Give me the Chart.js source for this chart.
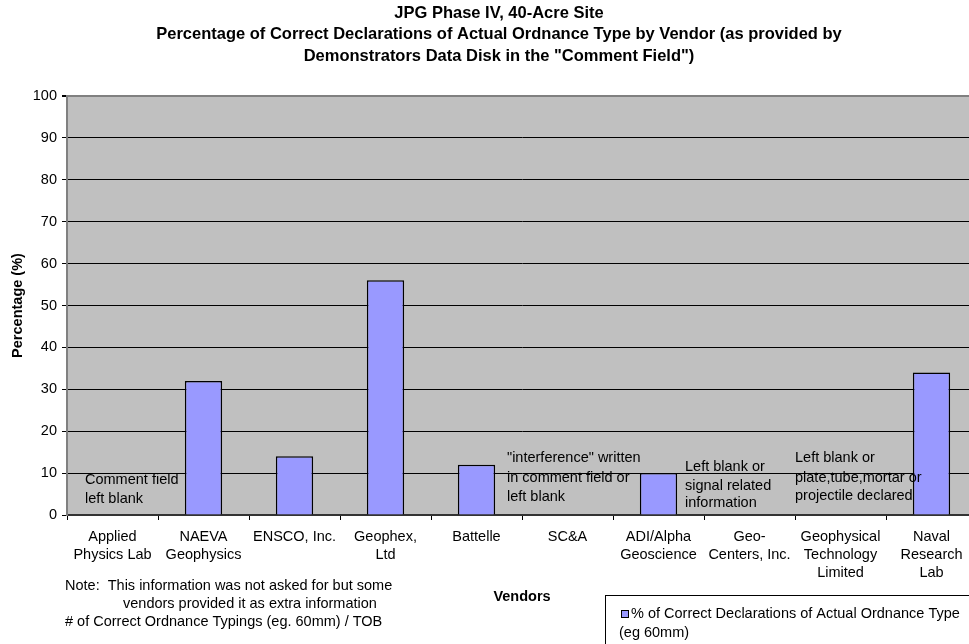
<!DOCTYPE html>
<html>
<head>
<meta charset="utf-8">
<script src="https://cdn.jsdelivr.net/npm/chart.js@4/dist/chart.umd.min.js"></script>
<style>
html, body { margin: 0; padding: 0; background: #fff; overflow: hidden; }
canvas { display: block; }
</style>
</head>
<body>
<canvas id="vendorChart" width="990" height="644"></canvas>
<script>
// categories (multi-line labels as shown under the axis)
const vendors = [
    ['Applied', 'Physics Lab'],
    ['NAEVA', 'Geophysics'],
    ['ENSCO, Inc.'],
    ['Geophex,', 'Ltd'],
    ['Battelle'],
    ['SC&A'],
    ['ADI/Alpha', 'Geoscience'],
    ['Geo-', 'Centers, Inc.'],
    ['Geophysical', 'Technology', 'Limited'],
    ['Naval', 'Research', 'Lab']
];
// % correct declarations, null = no bar (blank / not given)
const percentCorrect = [null, 32, 14, 56, 12, null, 10, null, null, 34];
const yMin = 0, yMax = 100, yStep = 10;

const titleLines = [
    'JPG Phase IV, 40-Acre Site',
    'Percentage of Correct Declarations of Actual Ordnance Type by Vendor (as provided by',
    'Demonstrators Data Disk in the "Comment Field")'
];
const seriesName = '% of Correct Declarations of Actual Ordnance Type';
const noteLines = [
    'Note:  This information was not asked for but some',
    'vendors provided it as extra information',
    '# of Correct Ordnance Typings (eg. 60mm) / TOB'
];
// text notes inside the plot: [category index, x offset from category centre, [values for each line], lines]
const plotNotes = [
    [0, -27.5, [8.4, 3.8], ['Comment field', 'left blank']],
    [5, -60.5, [13.6, 8.9, 4.3], ['"interference" written', 'in comment field or', 'left blank']],
    [6, 26.5, [11.5, 6.9, 2.9], ['Left blank or', 'signal related', 'information']],
    [8, -45.5, [13.6, 8.9, 4.5], ['Left blank or', 'plate,tube,mortar or', 'projectile declared']]
];

const FONT = '"Liberation Sans", Arial, sans-serif';
Chart.defaults.font.family = FONT;
Chart.defaults.font.size = 14.5;
Chart.defaults.color = '#000';

const plotBg = {
    id: 'plotBg',
    beforeDraw(chart) {
        const {ctx, chartArea: a} = chart;
        ctx.save();
        ctx.fillStyle = '#fff';
        ctx.fillRect(0, 0, chart.width, chart.height);
        ctx.fillStyle = '#c0c0c0';
        ctx.fillRect(a.left, a.top, a.right - a.left, a.bottom - a.top);
        ctx.restore();
    }
};

const extraText = {
    id: 'extraText',
    afterDraw(chart) {
        const ctx = chart.ctx;
        const xs = chart.scales.x, ys = chart.scales.y;
        ctx.save();
        ctx.fillStyle = '#000';
        ctx.textBaseline = 'middle';

        // title
        ctx.font = 'bold 16.5px ' + FONT;
        ctx.textAlign = 'center';
        titleLines.forEach((t, i) => ctx.fillText(t, 499, 13 + i * 21.5));

        // notes in the plot
        ctx.font = '14.5px ' + FONT;
        ctx.textAlign = 'left';
        plotNotes.forEach(([idx, dx, vals, lines]) => {
            const x = xs.getPixelForValue(idx) + dx;
            lines.forEach((t, i) => ctx.fillText(t, x, ys.getPixelForValue(vals[i])));
        });

        // footnote
        ctx.fillText(noteLines[0], 65, 586);
        ctx.fillText(noteLines[1], 123, 604);
        ctx.fillText(noteLines[2], 65, 622);

        // legend box
        ctx.strokeStyle = '#000';
        ctx.lineWidth = 1;
        ctx.strokeRect(605.5, 595.5, 420, 60);
        ctx.fillStyle = '#9999ff';
        ctx.fillRect(621, 610, 8, 8);
        ctx.strokeRect(621.5, 610.5, 7, 7);
        ctx.fillStyle = '#000';
        ctx.fillText(seriesName, 631, 614);
        ctx.fillText('(eg 60mm)', 619, 633);
        ctx.restore();
    }
};

new Chart(document.getElementById('vendorChart'), {
    type: 'bar',
    data: {
        labels: vendors,
        datasets: [{
            label: seriesName,
            data: percentCorrect,
            backgroundColor: '#9999ff',
            borderColor: '#000',
            borderWidth: 1.5,
            categoryPercentage: 1,
            barPercentage: 0.41
        }]
    },
    options: {
        responsive: false,
        animation: false,
        layout: { padding: { top: 96, right: 13, bottom: 0, left: 0 } },
        plugins: {
            legend: { display: false },
            title: { display: false },
            tooltip: { enabled: false }
        },
        scales: {
            x: {
                afterFit: s => { s.height = 129; },
                grid: { offset: true, drawOnChartArea: false, tickLength: 5, color: '#000' },
                border: { color: '#333', width: 2 },
                ticks: { padding: 8, maxRotation: 0, autoSkip: false, font: { lineHeight: 1.25 } },
                title: { display: true, text: 'Vendors', font: { weight: 'bold' }, padding: { top: 0, bottom: 38 } }
            },
            y: {
                min: yMin,
                max: yMax,
                afterFit: s => { s.width = 67; },
                grid: {
                    color: c => c.tick && c.tick.value === yMax ? '#808080' : '#000',
                    lineWidth: c => c.tick && c.tick.value === yMax ? 2 : 1,
                    tickColor: '#000',
                    tickLength: 5
                },
                border: { color: '#808080', width: 2 },
                ticks: { stepSize: yStep, padding: 5 },
                title: { display: true, text: 'Percentage (%)', font: { weight: 'bold' }, padding: { top: 9, bottom: 0 } }
            }
        }
    },
    plugins: [plotBg, extraText]
});
</script>
</body>
</html>
